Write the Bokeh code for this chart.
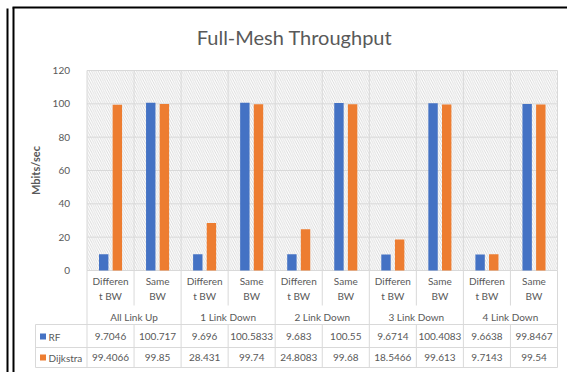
from bokeh.plotting import figure
from bokeh.models import Range1d, LinearAxis, FixedTicker, Label, ColumnDataSource
from bokeh.core.properties import value
from bokeh.embed import file_html
from bokeh.resources import INLINE

# ---------------- data ----------------
groups = ["All Link Up", "1 Link Down", "2 Link Down", "3 Link Down", "4 Link Down"]
subcats_line1 = ["Differen", "Same"]
subcats_line2 = ["t BW", "BW"]
rf = [9.7046, 100.717, 9.696, 100.5833, 9.683, 100.55, 9.6714, 100.4083, 9.6638, 99.8467]
dijkstra = [99.4066, 99.85, 28.431, 99.74, 24.8083, 99.68, 18.5466, 99.613, 9.7143, 99.54]
series_names = ["RF", "Dijkstra"]
y_ticks = [0, 20, 40, 60, 80, 100, 120]

# ---------------- geometry / style ----------------
W, H = 567, 372
PX_X0, PX_X10 = 86.5, 557.0      # screen x of category 0 and 10
PY_0, PY_120 = 270.0, 70.0       # screen y of value 0 and 120
SX = (PX_X10 - PX_X0) / 10.0
SY = (PY_0 - PY_120) / 120.0

def dx(px):
    return (px - PX_X0) / SX

def dy(py):
    return (PY_0 - py) / SY

GREY_TXT = "#595959"
GRID = "#d9d9d9"
FONT = "Lato"
BLUE = "#4472C4"
ORANGE = "#ED7D31"

p = figure(width=W, height=H, output_backend="svg", toolbar_location=None,
           x_range=Range1d(dx(0), dx(W)), y_range=Range1d(dy(H), dy(0)),
           x_axis_location=None, y_axis_location=None, min_border=0,
           background_fill_color="white", border_fill_color="white")
p.outline_line_color = None
p.xgrid.visible = False
p.ygrid.visible = False

n = len(rf)
ncat = n

# hatched plot area
p.quad(left=[0], right=[ncat], bottom=[y_ticks[0]], top=[y_ticks[-1]],
       fill_color="white", line_color=None,
       hatch_pattern="left_diagonal_line", hatch_color="#d2d2d2", hatch_alpha=1.0,
       hatch_scale=4.5, hatch_weight=0.8)

# gridlines
p.segment(x0=[0] * len(y_ticks), x1=[ncat] * len(y_ticks), y0=y_ticks, y1=y_ticks,
          line_color=GRID, line_width=1)
p.segment(x0=list(range(ncat + 1)), x1=list(range(ncat + 1)),
          y0=[y_ticks[0]] * (ncat + 1), y1=[y_ticks[-1]] * (ncat + 1),
          line_color=GRID, line_width=1)

# bars
idx = list(range(n))
off = 0.145
bw = 0.2
p.vbar(x=[i + 0.5 - off for i in idx], top=rf, width=bw, bottom=0,
       fill_color=BLUE, line_color=None)
p.vbar(x=[i + 0.5 + off for i in idx], top=dijkstra, width=bw, bottom=0,
       fill_color=ORANGE, line_color=None)

# ---------------- table under the chart ----------------
y_sub_end = dy(305)
y_grp_end = dy(324)
y_row1_end = dy(347)
y_row2_end = dy(367)
x_leg = dx(35)

# vertical lines
for k in range(ncat + 1):
    if k % 2 == 0:
        p.segment(x0=[k], x1=[k], y0=[0], y1=[y_row2_end], line_color=GRID, line_width=1)
    else:
        p.segment(x0=[k, k], x1=[k, k], y0=[0, y_grp_end], y1=[y_sub_end, y_row2_end],
                  line_color=GRID, line_width=1)
p.segment(x0=[x_leg], x1=[x_leg], y0=[y_grp_end], y1=[y_row2_end], line_color=GRID, line_width=1)
# horizontal lines
p.segment(x0=[x_leg] * 3, x1=[ncat] * 3, y0=[y_grp_end, y_row1_end, y_row2_end],
          y1=[y_grp_end, y_row1_end, y_row2_end], line_color=GRID, line_width=1)

def row_text(xs, ys, texts, align="center"):
    src = ColumnDataSource(dict(x=xs, y=ys, t=texts))
    p.text(x="x", y="y", text="t", source=src, text_align=align, text_baseline="middle",
           text_font=value(FONT), text_font_size="10px", text_color=GREY_TXT)

centers = [i + 0.5 for i in idx]
row_text(centers, [dy(280)] * n, [subcats_line1[i % 2] for i in idx])
row_text(centers, [dy(295)] * n, [subcats_line2[i % 2] for i in idx])
row_text([2 * g + 1 for g in range(len(groups))], [dy(316)] * len(groups), groups)

row_y = [dy(336), dy(357)]
for vals, ry in zip([rf, dijkstra], row_y):
    row_text(centers, [ry] * n, [str(v) for v in vals])

# legend keys in table
p.scatter(x=[dx(42.5)] * 2, y=row_y, marker="square", size=6,
          fill_color=[BLUE, ORANGE], line_color=None)
row_text([dx(48)] * 2, row_y, series_names, align="left")

# ---------------- y axis ----------------
yax = LinearAxis(ticker=FixedTicker(ticks=y_ticks), bounds=(y_ticks[0], y_ticks[-1]))
yax.fixed_location = 0
yax.axis_line_color = None
yax.major_tick_line_color = None
yax.minor_tick_line_color = None
yax.major_label_standoff = 11
yax.major_label_text_font = FONT
yax.major_label_text_font_size = "10px"
yax.major_label_text_color = GREY_TXT
yax.axis_label = "Mbits/sec"
yax.axis_label_standoff = 8
yax.axis_label_text_font = FONT
yax.axis_label_text_font_size = "11px"
yax.axis_label_text_font_style = "bold"
yax.axis_label_text_color = GREY_TXT
p.add_layout(yax, "left")

# ---------------- title ----------------
p.add_layout(Label(x=dx(294), y=dy(36), text="Full-Mesh Throughput", text_align="center",
                   text_baseline="middle", text_font=FONT, text_font_size="20px",
                   text_color=GREY_TXT))

# ---------------- frame border lines ----------------
p.segment(x0=[dx(7), dx(13), dx(12)], x1=[dx(7), dx(13), dx(W)],
          y0=[dy(8), dy(7), dy(7)], y1=[dy(H), dy(H), dy(7)],
          line_color="black", line_width=2)

open("out.html", "w").write(file_html(p, INLINE))
